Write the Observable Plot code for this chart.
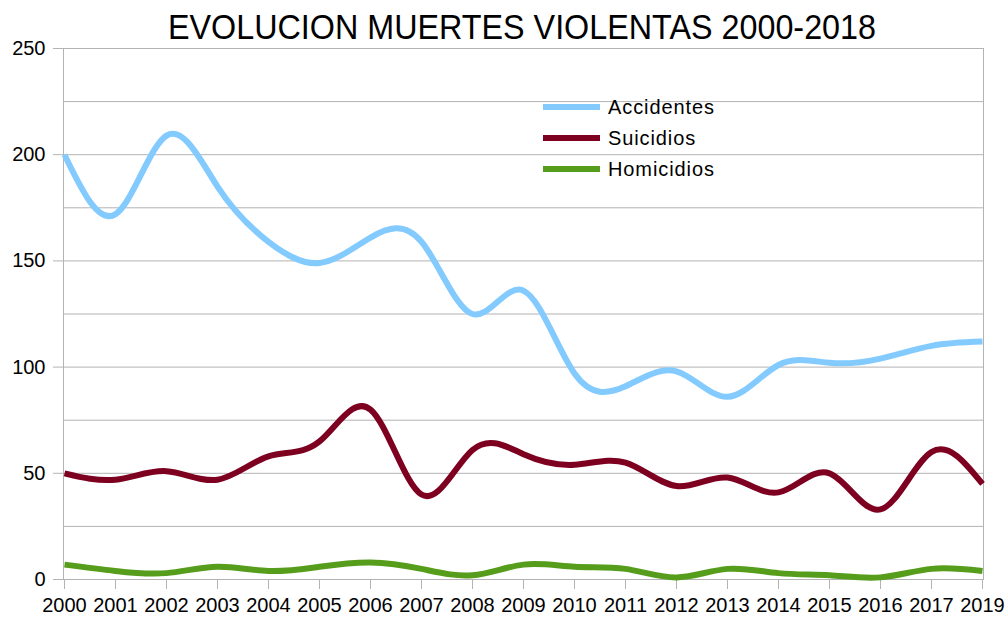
<!DOCTYPE html>
<html>
<head>
<meta charset="utf-8">
<script src="https://cdn.jsdelivr.net/npm/d3@7"></script>
<script src="https://cdn.jsdelivr.net/npm/@observablehq/plot@0.6"></script>
<style>
  html, body { margin: 0; padding: 0; background: #fff; }
  #chart { width: 1008px; height: 618px; }
  svg { font-family: "Liberation Sans", Arial, sans-serif; }
</style>
</head>
<body>
<div id="chart"></div>
<script>
const title = "EVOLUCION MUERTES VIOLENTAS 2000-2018";
const years = ["2000","2001","2002","2003","2004","2005","2006","2007","2008","2009",
               "2010","2011","2012","2013","2014","2015","2016","2017","2019"];
const seriesNames = ["Accidentes", "Suicidios", "Homicidios"];
const seriesColors = ["#83caff", "#7e0021", "#579d1c"];
const accidentes = [200,172,209,185,159,149,161,159,125,136,97,91,98,86,101,102,104,110,112];
const suicidios  = [50,47,51,47,58,65,80,40,61,59,54,55,44,48,41,50,33,60,45];
const homicidios = [7,4,3,6,4,6,8,5,2,7,6,5,1,5,3,2,1,5,4];
const yTicks = [0,50,100,150,200,250];
const yGrid = [0,25,50,75,100,125,150,175,200,225,250];

const values = [accidentes, suicidios, homicidios];
const data = [];
seriesNames.forEach((s, k) => years.forEach((y, i) => data.push({serie: s, year: y, value: values[k][i]})));

const plot = Plot.plot({
  width: 1008,
  height: 618,
  marginLeft: 63,
  marginRight: 25,
  marginTop: 48,
  marginBottom: 39,
  style: {fontFamily: "Liberation Sans, Arial, sans-serif", fontSize: "20px", color: "#000", background: "#fff"},
  x: {type: "point", domain: years, padding: 0, label: null},
  y: {domain: [0, 250], label: null},
  color: {domain: seriesNames, range: seriesColors},
  marks: [
    Plot.gridY(yGrid, {stroke: "#b3b3b3", strokeOpacity: 1, strokeWidth: 1}),
    Plot.frame({stroke: "#b3b3b3", strokeWidth: 1}),
    Plot.axisY(yTicks, {tickSize: 10, tickPadding: 8, stroke: "#b3b3b3", fill: "#000", fontSize: 20, label: null}),
    Plot.axisX({tickSize: 10, tickPadding: 8, stroke: "#b3b3b3", fill: "#000", fontSize: 20, label: null}),
    Plot.line(data, {x: "year", y: "value", z: "serie", stroke: "serie", strokeWidth: 6, curve: "natural", strokeLinejoin: "round", strokeLinecap: "butt"})
  ]
});

document.getElementById("chart").appendChild(plot);
const svg = d3.select(plot);

// Title
svg.append("text")
  .text(title)
  .attr("x", 522).attr("y", 39)
  .attr("text-anchor", "middle")
  .attr("font-size", 35)
  .attr("textLength", 708)
  .attr("lengthAdjust", "spacingAndGlyphs")
  .attr("fill", "#000");

// Legend
const lg = svg.append("g").attr("text-anchor", "start");
seriesNames.forEach((s, k) => {
  const cy = 107 + k * 31;
  lg.append("line").attr("x1", 543).attr("x2", 600).attr("y1", cy).attr("y2", cy)
    .attr("stroke", seriesColors[k]).attr("stroke-width", 6);
  lg.append("text").text(s).attr("x", 608).attr("y", cy).attr("dy", "0.35em")
    .attr("text-anchor", "start")
    .attr("letter-spacing", "0.9px")
    .attr("font-size", 20).attr("fill", "#000");
});
</script>
</body>
</html>
